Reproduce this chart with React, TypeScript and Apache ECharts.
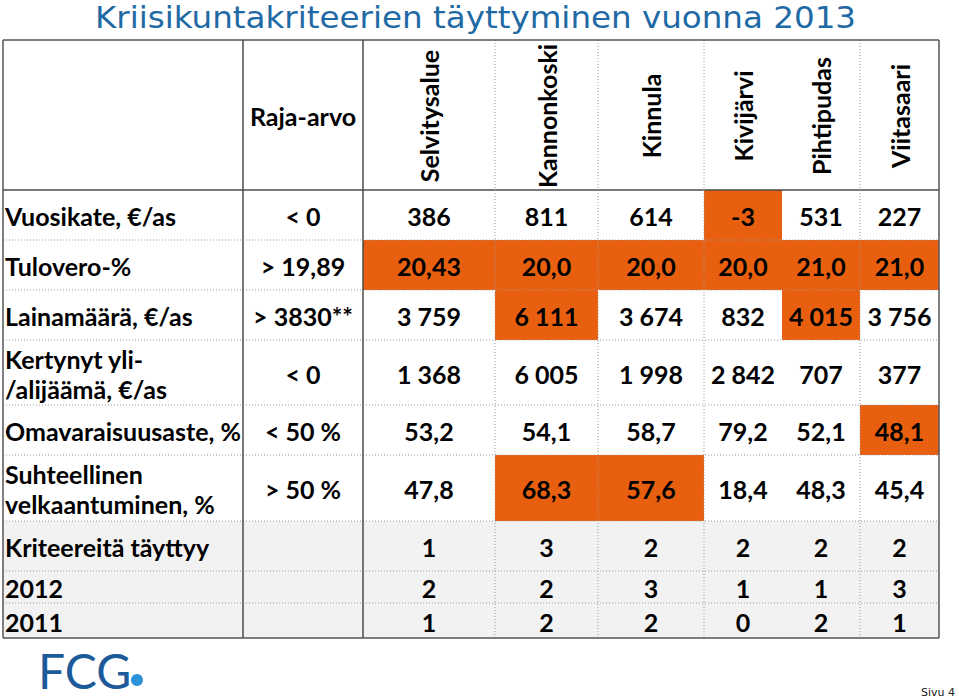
import { useEffect, useRef } from "react";
import * as echarts from "echarts";

// ---------- data ----------
const title = "Kriisikuntakriteerien täyttyminen vuonna 2013";
const thresholdHeader = "Raja-arvo";
const municipalities = ["Selvitysalue", "Kannonkoski", "Kinnula", "Kivijärvi", "Pihtipudas", "Viitasaari"];
const criteriaLabels = [
  "Vuosikate, €/as",
  "Tulovero-%",
  "Lainamäärä, €/as",
  "Kertynyt yli-\n/alijäämä, €/as",
  "Omavaraisuusaste, %",
  "Suhteellinen\nvelkaantuminen, %",
];
const thresholdLabels = ["< 0", "> 19,89", "> 3830**", "< 0", "< 50 %", "> 50 %"];
const thresholdValues = [0, 19.89, 3830, 0, 50, 50];
const thresholdDirections = ["<", ">", ">", "<", "<", ">"];
const vuosikate = [386, 811, 614, -3, 531, 227];
const tulovero = [20.43, 20.0, 20.0, 20.0, 21.0, 21.0];
const lainamaara = [3759, 6111, 3674, 832, 4015, 3756];
const kertynytYliAlijaama = [1368, 6005, 1998, 2842, 707, 377];
const omavaraisuusaste = [53.2, 54.1, 58.7, 79.2, 52.1, 48.1];
const suhteellinenVelkaantuminen = [47.8, 68.3, 57.6, 18.4, 48.3, 45.4];
const summaryLabels = ["Kriteereitä täyttyy", "2012", "2011"];
const criteriaMet2013 = [1, 3, 2, 2, 2, 2];
const criteriaMet2012 = [2, 2, 3, 1, 1, 3];
const criteriaMet2011 = [1, 2, 2, 0, 2, 1];
const logoText = "FCG";
const pageLabel = "Sivu 4";

// ---------- layout / style ----------
const COL_EDGES = [3, 243, 363, 495, 598, 704, 782, 860, 939];
const ROW_EDGES = [40, 190, 240, 290, 340, 405, 455, 521, 571, 603, 638];
const ROW_DECIMALS = [0, -1, 0, 0, 1, 1];
const ORANGE = "#E8600F";
const SUMMARY_BG = "#F2F2F2";
const CELL_FONT = "bold 25px Lato";

function fmt(v: number, dec: number): string {
  if (dec === 0) {
    const s = String(Math.abs(Math.round(v))).replace(/\B(?=(\d{3})+(?!\d))/g, " ");
    return (v < 0 ? "-" : "") + s;
  }
  const d = dec < 0 ? (Number.isInteger(Math.round(v * 1000) / 100) ? 1 : 2) : dec;
  return v.toFixed(d).replace(".", ",");
}

type Cell = {
  col: number;
  row: number;
  text: string;
  fill?: string;
  align: "left" | "center";
  rotate?: boolean;
};

function buildCells(): Cell[] {
  const cells: Cell[] = [];
  cells.push({ col: 1, row: 0, text: thresholdHeader, align: "center" });
  municipalities.forEach((m, i) => cells.push({ col: i + 2, row: 0, text: m, align: "center", rotate: true }));
  const criteriaRows = [vuosikate, tulovero, lainamaara, kertynytYliAlijaama, omavaraisuusaste, suhteellinenVelkaantuminen];
  criteriaRows.forEach((vals, r) => {
    const row = r + 1;
    cells.push({ col: 0, row, text: criteriaLabels[r], align: "left" });
    cells.push({ col: 1, row, text: thresholdLabels[r], align: "center" });
    vals.forEach((v, i) => {
      const met = thresholdDirections[r] === "<" ? v < thresholdValues[r] : v > thresholdValues[r];
      cells.push({ col: i + 2, row, text: fmt(v, ROW_DECIMALS[r]), align: "center", fill: met ? ORANGE : undefined });
    });
  });
  const summaryRows = [criteriaMet2013, criteriaMet2012, criteriaMet2011];
  summaryRows.forEach((vals, r) => {
    const row = r + 7;
    cells.push({ col: 0, row, text: summaryLabels[r], align: "left", fill: SUMMARY_BG });
    cells.push({ col: 1, row, text: "", align: "center", fill: SUMMARY_BG });
    vals.forEach((v, i) => cells.push({ col: i + 2, row, text: String(v), align: "center", fill: SUMMARY_BG }));
  });
  return cells;
}

type Seg = { x1: number; y1: number; x2: number; y2: number; kind: "solid" | "dot" | "border" };

function buildLines(): Seg[] {
  const top = ROW_EDGES[0];
  const bottom = ROW_EDGES[ROW_EDGES.length - 1];
  const left = COL_EDGES[0];
  const right = COL_EDGES[COL_EDGES.length - 1];
  const segs: Seg[] = [];
  ROW_EDGES.slice(1, -1).forEach((y, i) => {
    segs.push({ x1: left, y1: y, x2: right, y2: y, kind: i === 0 ? "solid" : "dot" });
  });
  [3, 4, 5, 7].forEach((ci) => segs.push({ x1: COL_EDGES[ci], y1: top, x2: COL_EDGES[ci], y2: bottom, kind: "dot" }));
  [1, 2].forEach((ci) => segs.push({ x1: COL_EDGES[ci], y1: top, x2: COL_EDGES[ci], y2: bottom, kind: "solid" }));
  segs.push({ x1: left, y1: top, x2: right, y2: top, kind: "border" });
  segs.push({ x1: left, y1: bottom, x2: right, y2: bottom, kind: "border" });
  segs.push({ x1: left, y1: top, x2: left, y2: bottom, kind: "border" });
  segs.push({ x1: right, y1: top, x2: right, y2: bottom, kind: "border" });
  return segs;
}

export default function App() {
  const ref = useRef<HTMLDivElement>(null);
  useEffect(() => {
    document.body.style.margin = "0";
    if (!ref.current) return;
    const chart = echarts.init(ref.current, undefined, { renderer: "svg" });
    const cells = buildCells();
    const lines = buildLines();
    const left = COL_EDGES[0];
    const right = COL_EDGES[COL_EDGES.length - 1];
    const top = ROW_EDGES[0];
    const bottom = ROW_EDGES[ROW_EDGES.length - 1];

    chart.setOption({
      animation: false,
      backgroundColor: "#ffffff",
      grid: { left, top, width: right - left, height: bottom - top, containLabel: false },
      xAxis: { type: "value", min: left, max: right, show: false },
      yAxis: { type: "value", min: top, max: bottom, inverse: true, show: false },
      series: [
        {
          type: "custom",
          name: "cells",
          coordinateSystem: "cartesian2d",
          silent: true,
          z: 1,
          data: cells.map((c) => [COL_EDGES[c.col], ROW_EDGES[c.row], COL_EDGES[c.col + 1], ROW_EDGES[c.row + 1]]),
          renderItem: (params: any, api: any) => {
            const c = cells[params.dataIndex];
            const p0 = api.coord([api.value(0), api.value(1)]);
            const p1 = api.coord([api.value(2), api.value(3)]);
            const children: any[] = [];
            if (c.fill) {
              children.push({
                type: "rect",
                shape: { x: p0[0], y: p0[1], width: p1[0] - p0[0], height: p1[1] - p0[1] },
                style: { fill: c.fill },
              });
            }
            if (c.text) {
              children.push({
                type: "text",
                x: c.align === "left" ? p0[0] + 2 : (p0[0] + p1[0]) / 2,
                y: (p0[1] + p1[1]) / 2 + 1,
                rotation: c.rotate ? Math.PI / 2 : 0,
                style: {
                  text: c.text,
                  fill: "#000000",
                  font: CELL_FONT,
                  align: c.align,
                  verticalAlign: "middle",
                  lineHeight: 30,
                },
              });
            }
            return { type: "group", children };
          },
        },
        {
          type: "custom",
          name: "rules",
          coordinateSystem: "cartesian2d",
          silent: true,
          z: 2,
          data: lines.map((s) => [s.x1, s.y1, s.x2, s.y2]),
          renderItem: (params: any, api: any) => {
            const s = lines[params.dataIndex];
            const a = api.coord([api.value(0), api.value(1)]);
            const b = api.coord([api.value(2), api.value(3)]);
            const style =
              s.kind === "dot"
                ? { stroke: "#9a9a9a", lineWidth: 1, lineDash: [1, 2] }
                : s.kind === "solid"
                ? { stroke: "#4a4a4a", lineWidth: 1.5 }
                : { stroke: "#555555", lineWidth: 1.5 };
            return { type: "line", shape: { x1: a[0], y1: a[1], x2: b[0], y2: b[1] }, style };
          },
        },
      ],
      graphic: [
        {
          type: "text",
          x: 95,
          y: 17,
          scaleX: 1.05,
          style: { text: title, font: "normal 31px 'DejaVu Sans'", fill: "#1F6AA5", verticalAlign: "middle", lineHeight: 31 },
        },
        {
          type: "text",
          x: 38,
          y: 670,
          style: { text: logoText, font: "normal 48px Lato", fill: "#1D5A9A", verticalAlign: "middle" },
        },
        { type: "circle", shape: { cx: 137, cy: 680, r: 6 }, style: { fill: "#2A92D6" } },
        {
          type: "text",
          x: 955,
          y: 692,
          style: { text: pageLabel, font: "normal 11px 'DejaVu Sans'", fill: "#222222", align: "right", verticalAlign: "middle" },
        },
      ],
    });
    return () => chart.dispose();
  }, []);
  return <div ref={ref} style={{ width: 959, height: 699 }} />;
}
